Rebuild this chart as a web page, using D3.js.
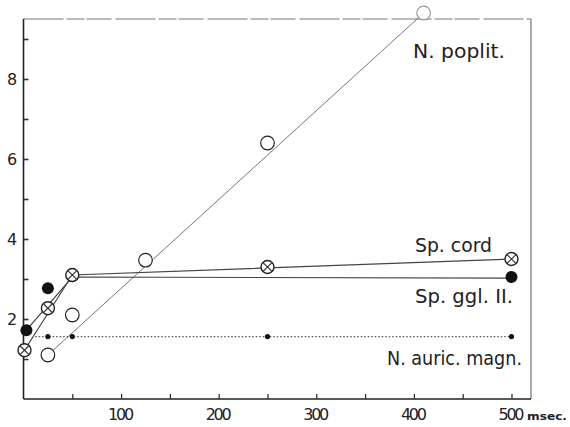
<!DOCTYPE html>
<html lang="en">
<head>
    <meta charset="UTF-8">
    <title>Latency chart</title>
    <style>
        body { margin: 0; background: #fff; }
        svg { display: block; }
        text { fill: #222; font-family: "DejaVu Sans", sans-serif; }
    </style>
</head>
<body>
    <script src="https://cdnjs.cloudflare.com/ajax/libs/d3/7.8.2/d3.min.js"></script>
    <script>

        // N. poplit. (open circles)
        const poplitX = [25, 50, 125, 250, 410]
        const poplitY = [1.1, 2.1, 3.47, 6.4, 9.65]
        const poplitLine = [[25, 1.1], [410, 9.65]]

        // Sp. cord (crossed circles)
        const cordX = [1, 25, 50, 250, 500]
        const cordY = [1.22, 2.27, 3.1, 3.3, 3.5]
        const cordLine = [[1, 1.22], [50, 3.1], [500, 3.5]]

        // Sp. ggl. II (filled circles)
        const gglX = [3, 25, 50, 500]
        const gglY = [1.72, 2.77, 3.07, 3.05]
        const gglLine = [[3, 1.72], [50, 3.05], [500, 3.02]]

        // N. auric. magn. (small dots, dotted line)
        const auricX = [25, 50, 250, 500]
        const auricY = [1.56, 1.56, 1.56, 1.56]
        const auricLine = [[12, 1.56], [500, 1.56]]

        const xTicks = [50, 100, 150, 200, 250, 300, 350, 400, 450, 500]
        const xLabels = [100, 200, 300, 400, 500]
        const yTicks = [1, 2, 3, 4, 5, 6, 7, 8, 9]
        const yLabels = [2, 4, 6, 8]

        const w = 570
        const h = 427

        const x = d3.scaleLinear().domain([0, 520]).range([23.5, 531])
        const y = d3.scaleLinear().domain([0, 9.5]).range([399, 19])

        let svg = d3.select("body")
            .append("svg")
                .attr("width", w)
                .attr("height", h)

        // frame (top edge is faint and broken in the scan)
        svg.append("line")
            .attr("x1", x(0)).attr("x2", x(520)).attr("y1", y(9.5)).attr("y2", y(9.5))
            .attr("stroke", "#777").attr("stroke-width", 1).attr("stroke-dasharray", "40,3,18,2,25,4")
        svg.append("line")
            .attr("x1", x(520)).attr("x2", x(520)).attr("y1", y(9.5)).attr("y2", y(0))
            .attr("stroke", "#555").attr("stroke-width", 1)

        // axes, ticks inward
        const xAxis = d3.axisTop(x).tickValues(xTicks).tickSize(5).tickFormat("")
        const yAxis = d3.axisRight(y).tickValues(yTicks).tickSize(5).tickFormat("")

        svg.append("g")
            .attr("transform", `translate(0,${y(0)})`)
            .call(xAxis)
            .call(g => g.select(".domain").attr("stroke", "#222").attr("stroke-width", 1.6)
                .attr("d", `M${x(0)},0H${x(520)}`))
            .call(g => g.selectAll(".tick line").attr("stroke", "#333").attr("stroke-width", 1.3))

        svg.append("g")
            .attr("transform", `translate(${x(0)},0)`)
            .call(yAxis)
            .call(g => g.select(".domain").attr("stroke", "#222").attr("stroke-width", 1.6)
                .attr("d", `M0,${y(9.5)}V${y(0)}`))
            .call(g => g.selectAll(".tick line").attr("stroke", "#333").attr("stroke-width", 1.6))

        svg.selectAll(".xlab")
            .data(xLabels)
            .enter()
            .append("text")
                .attr("x", d => x(d) - 13)
                .attr("y", 420)
                .attr("font-size", 16)
                .attr("textLength", 26)
                .attr("lengthAdjust", "spacing")
                .text(d => d)

        svg.append("text")
            .attr("x", 527).attr("y", 420)
            .attr("font-size", 10).attr("font-weight", "bold")
            .attr("textLength", 40).attr("lengthAdjust", "spacingAndGlyphs")
            .text("msec.")

        svg.selectAll(".ylab")
            .data(yLabels)
            .enter()
            .append("text")
                .attr("x", 12)
                .attr("y", d => y(d) + 6)
                .attr("text-anchor", "middle")
                .attr("font-size", 16)
                .text(d => d)

        const line = d3.line().x(d => x(d[0])).y(d => y(d[1]))

        svg.append("path").attr("d", line(poplitLine))
            .attr("fill", "none").attr("stroke", "#777").attr("stroke-width", 1)
        svg.append("path").attr("d", line(cordLine))
            .attr("fill", "none").attr("stroke", "#444").attr("stroke-width", 1.2)
        svg.append("path").attr("d", line(gglLine))
            .attr("fill", "none").attr("stroke", "#444").attr("stroke-width", 1.2)
        svg.append("path").attr("d", line(auricLine))
            .attr("fill", "none").attr("stroke", "#555").attr("stroke-width", 1.2)
            .attr("stroke-dasharray", "1.5,2")

        // markers
        svg.selectAll(".auric")
            .data(auricX)
            .enter()
            .append("circle")
                .attr("cx", d => x(d))
                .attr("cy", (d, i) => y(auricY[i]))
                .attr("r", 2.6)
                .style("fill", "#111")

        svg.selectAll(".ggl")
            .data(gglX)
            .enter()
            .append("circle")
                .attr("cx", d => x(d))
                .attr("cy", (d, i) => y(gglY[i]))
                .attr("r", 6)
                .style("fill", "#111")

        const cord = svg.selectAll(".cord")
            .data(cordX)
            .enter()
            .append("g")
                .attr("transform", (d, i) => `translate(${x(d)},${y(cordY[i])})`)
        cord.append("circle").attr("r", 6.5)
            .style("fill", "#fff").style("stroke", "#222").style("stroke-width", 1.4)
        cord.append("path").attr("d", "M-4.2,-4.2L4.2,4.2M-4.2,4.2L4.2,-4.2")
            .style("stroke", "#333").style("stroke-width", 1.2)

        svg.selectAll(".poplit")
            .data(poplitX)
            .enter()
            .append("circle")
                .attr("cx", d => x(d))
                .attr("cy", (d, i) => y(poplitY[i]))
                .attr("r", 6.8)
                .style("fill", "#fff")
                .style("fill-opacity", 0.85)
                .style("stroke", (d, i) => i === poplitX.length - 1 ? "#999" : "#222")
                .style("stroke-width", 1.2)

        // series labels
        const labels = [
            {t : "N. poplit.", x : 413, y : 58, len : 92},
            {t : "Sp. cord", x : 415, y : 252, len : 77},
            {t : "Sp. ggl. II.", x : 415, y : 303, len : 98},
            {t : "N. auric. magn.", x : 387, y : 365, len : 135}
        ]
        svg.selectAll(".lab")
            .data(labels)
            .enter()
            .append("text")
                .attr("x", d => d.x)
                .attr("y", d => d.y)
                .attr("font-size", 19)
                .attr("textLength", d => d.len)
                .attr("lengthAdjust", "spacingAndGlyphs")
                .text(d => d.t)

    </script>
</body>
</html>
